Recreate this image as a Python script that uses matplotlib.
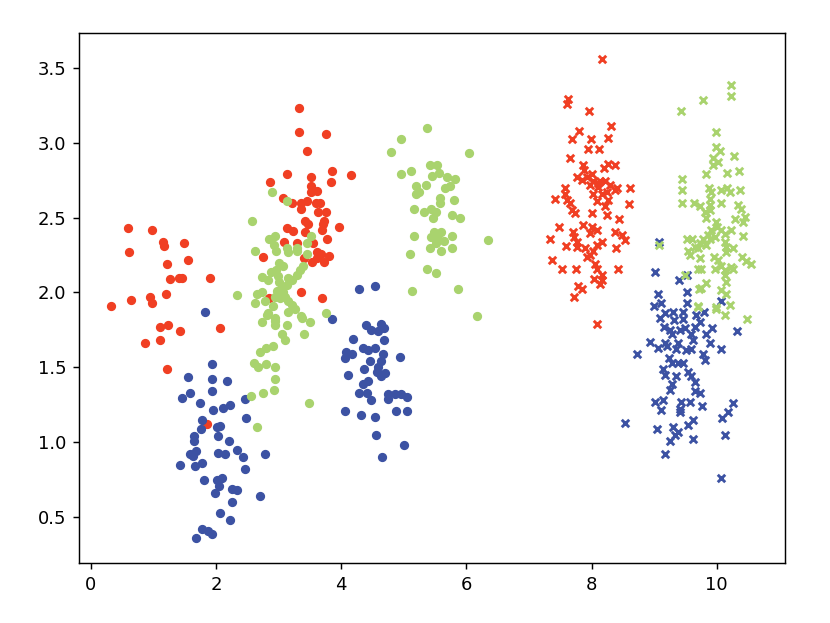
import matplotlib
matplotlib.use("Agg")
import matplotlib.pyplot as plt
import numpy as np

# point values, (x, y)
red_circles = [
    (0.60, 2.43), (0.98, 2.415), (1.145, 2.34), (1.166, 2.31), (1.486, 2.33), (0.61, 2.27),
    (1.555, 2.22), (1.214, 2.19), (1.262, 2.09), (1.41, 2.10), (1.46, 2.10), (1.91, 2.10),
    (1.198, 1.99), (0.94, 1.97), (0.97, 1.93), (0.64, 1.95), (0.32, 1.91), (1.10, 1.77),
    (1.225, 1.78), (1.43, 1.74), (2.07, 1.76), (1.11, 1.68), (0.87, 1.66), (1.21, 1.49),
    (1.85, 1.12),
    (3.32, 3.23), (3.33, 3.07), (3.76, 3.06), (3.46, 2.945), (3.14, 2.79), (3.845, 2.81),
    (4.15, 2.785), (2.86, 2.74), (3.52, 2.77), (3.84, 2.735), (3.52, 2.71), (3.605, 2.68),
    (3.52, 2.67), (3.07, 2.63), (3.22, 2.60), (3.35, 2.60), (3.45, 2.61), (3.59, 2.60),
    (3.66, 2.595), (3.36, 2.56), (3.63, 2.54), (3.75, 2.54), (3.42, 2.48), (3.73, 2.48),
    (3.47, 2.46), (3.71, 2.46), (3.97, 2.44), (3.13, 2.43), (3.23, 2.41), (3.42, 2.405),
    (3.695, 2.42), (3.775, 2.36), (3.55, 2.33), (3.295, 2.33), (3.09, 2.34), (2.75, 2.24),
    (3.605, 2.27), (3.67, 2.26), (3.81, 2.245), (3.41, 2.23), (3.525, 2.205), (3.73, 2.205),
    (3.605, 2.23), (3.36, 2.00), (3.70, 1.965), (2.85, 1.96),
]

blue_circles = [
    (1.82, 1.87), (1.94, 1.52), (1.555, 1.435), (1.94, 1.42), (2.17, 1.41), (1.93, 1.34),
    (1.58, 1.33), (1.46, 1.295), (1.74, 1.26), (2.465, 1.29), (2.22, 1.25), (2.11, 1.23),
    (1.95, 1.215), (2.48, 1.16), (1.77, 1.15), (1.76, 1.09), (2.07, 1.11), (2.01, 1.10),
    (2.03, 1.04), (1.64, 1.04), (1.65, 1.01), (2.21, 1.01), (2.34, 0.95), (2.43, 0.90),
    (2.78, 0.92), (1.68, 0.94), (1.58, 0.92), (1.63, 0.91), (2.03, 0.925), (2.15, 0.92),
    (1.42, 0.85), (1.66, 0.84), (1.78, 0.86), (2.46, 0.82), (1.80, 0.75), (2.02, 0.75),
    (2.09, 0.76), (2.05, 0.71), (2.26, 0.69), (2.34, 0.68), (1.98, 0.66), (2.70, 0.64),
    (2.25, 0.60), (2.06, 0.53), (2.22, 0.48), (1.78, 0.42), (1.87, 0.41), (1.94, 0.39),
    (1.68, 0.36),
    (4.28, 2.02), (4.54, 2.045), (3.845, 1.82), (4.40, 1.78), (4.64, 1.79), (4.47, 1.75),
    (4.59, 1.74), (4.685, 1.765), (4.19, 1.69), (4.685, 1.68), (4.35, 1.63), (4.43, 1.615),
    (4.54, 1.63), (4.07, 1.60), (4.17, 1.59), (4.06, 1.565), (4.66, 1.59), (4.94, 1.57),
    (4.46, 1.54), (4.64, 1.54), (4.59, 1.50), (4.36, 1.49), (4.57, 1.47), (4.70, 1.46),
    (4.11, 1.45), (4.63, 1.44), (4.43, 1.41), (4.35, 1.39), (4.28, 1.33), (4.41, 1.33),
    (4.48, 1.28), (4.75, 1.32), (4.75, 1.29), (4.86, 1.32), (4.96, 1.32), (5.05, 1.30),
    (4.06, 1.21), (4.31, 1.18), (4.54, 1.17), (4.88, 1.21), (5.05, 1.21), (4.55, 1.045),
    (5.00, 0.98), (4.65, 0.90),
]

green_circles = [
    (2.90, 2.67), (3.14, 2.61), (2.57, 2.48), (2.94, 2.38), (2.85, 2.36), (3.51, 2.38),
    (3.46, 2.33), (2.92, 2.32), (2.96, 2.28), (3.14, 2.30), (3.29, 2.30), (3.15, 2.27),
    (3.29, 2.28), (3.46, 2.26), (2.62, 2.28), (3.01, 2.20), (3.07, 2.18), (3.39, 2.18),
    (3.34, 2.15), (2.955, 2.15), (2.87, 2.14), (2.73, 2.105), (2.99, 2.11), (3.29, 2.115),
    (2.83, 2.08), (3.15, 2.10), (3.21, 2.08), (3.01, 2.07), (3.13, 2.05), (3.05, 2.03),
    (2.97, 2.01), (3.07, 2.00), (2.65, 1.99), (2.73, 2.005), (2.94, 1.97), (3.02, 1.96),
    (3.10, 1.97), (3.15, 1.945), (2.78, 1.94), (2.62, 1.93), (2.91, 1.91), (3.21, 1.915),
    (2.33, 1.98), (2.83, 1.86), (2.94, 1.83), (3.36, 1.84), (3.76, 1.865), (3.26, 1.89),
    (3.15, 1.87), (2.82, 1.85), (3.38, 1.83), (3.50, 1.80), (2.74, 1.80), (2.94, 1.81),
    (2.94, 1.78), (3.14, 1.78), (3.06, 1.72), (3.10, 1.68), (3.41, 1.72), (2.91, 1.64),
    (2.80, 1.63), (2.695, 1.60), (2.60, 1.53), (2.67, 1.50), (2.79, 1.52), (2.94, 1.50),
    (2.94, 1.42), (2.93, 1.35), (2.75, 1.33), (2.55, 1.31), (3.48, 1.26), (2.66, 1.10),
    (5.37, 3.10), (4.95, 3.025), (4.80, 2.94), (6.04, 2.93), (4.95, 2.79), (5.12, 2.81),
    (5.42, 2.85), (5.53, 2.85), (5.45, 2.78), (5.56, 2.795), (5.69, 2.77), (5.81, 2.76),
    (5.73, 2.71), (5.655, 2.70), (5.19, 2.71), (5.35, 2.72), (5.20, 2.66), (5.245, 2.67),
    (5.575, 2.63), (5.575, 2.595), (5.80, 2.62), (5.155, 2.555), (5.32, 2.54), (5.44, 2.56),
    (5.52, 2.54), (5.46, 2.50), (5.77, 2.52), (5.905, 2.495), (5.16, 2.38), (5.48, 2.405),
    (5.60, 2.405), (5.44, 2.37), (5.55, 2.36), (5.64, 2.345), (5.77, 2.38), (6.34, 2.35),
    (5.52, 2.33), (5.42, 2.30), (5.60, 2.28), (5.77, 2.295), (5.10, 2.26), (5.37, 2.16),
    (5.51, 2.13), (5.13, 2.01), (5.87, 2.02), (6.17, 1.845),
]

red_crosses = [
    (8.16, 3.56), (7.63, 3.29), (7.61, 3.26), (7.955, 3.21), (8.31, 3.11), (7.80, 3.08),
    (7.69, 3.025), (7.99, 3.025), (8.26, 3.03), (7.94, 2.96), (8.12, 2.955), (7.65, 2.90),
    (7.86, 2.85), (8.26, 2.86), (8.38, 2.85), (8.19, 2.83), (7.875, 2.82), (8.00, 2.79),
    (7.77, 2.77), (7.92, 2.77), (7.85, 2.75), (8.03, 2.745), (8.13, 2.745), (8.22, 2.745),
    (8.30, 2.72), (7.97, 2.72), (8.10, 2.705), (7.58, 2.70), (8.61, 2.70), (8.40, 2.70),
    (8.10, 2.73), (8.37, 2.685), (8.02, 2.66), (8.16, 2.66), (8.24, 2.67), (7.42, 2.625),
    (7.57, 2.66), (7.60, 2.62), (7.65, 2.595), (8.08, 2.61), (8.26, 2.62), (8.60, 2.59),
    (8.21, 2.575), (7.68, 2.55), (7.73, 2.53), (8.00, 2.53), (8.24, 2.52), (8.43, 2.49),
    (7.86, 2.45), (7.48, 2.44), (8.00, 2.44), (8.08, 2.42), (7.97, 2.40), (7.70, 2.405),
    (8.37, 2.405), (7.715, 2.37), (8.48, 2.385), (8.53, 2.35), (7.34, 2.36), (7.76, 2.34),
    (8.16, 2.34), (7.59, 2.31), (7.76, 2.305), (8.08, 2.32), (7.89, 2.295), (8.02, 2.28),
    (8.39, 2.295), (7.92, 2.235), (7.97, 2.25), (7.37, 2.22), (8.05, 2.19), (8.08, 2.16),
    (7.53, 2.155), (7.75, 2.155), (8.42, 2.16), (8.17, 2.115), (8.035, 2.09), (8.16, 2.08),
    (8.13, 2.055), (7.78, 2.04), (7.85, 2.02), (7.72, 1.97), (8.09, 1.79),
]

blue_crosses = [
    (9.07, 2.34), (9.01, 2.14), (9.53, 2.12), (9.39, 2.08), (9.06, 1.99), (9.525, 2.00),
    (9.53, 1.93), (10.07, 1.945), (9.00, 1.91), (9.11, 1.93), (9.17, 1.865), (9.30, 1.87),
    (9.46, 1.87), (9.09, 1.83), (9.32, 1.815), (9.46, 1.82), (9.675, 1.85), (9.80, 1.87),
    (9.73, 1.80), (9.16, 1.77), (9.25, 1.75), (9.41, 1.75), (9.49, 1.76), (9.65, 1.77),
    (9.93, 1.765), (9.28, 1.72), (9.595, 1.72), (9.835, 1.72), (10.33, 1.74), (8.93, 1.67),
    (9.17, 1.66), (9.38, 1.66), (9.62, 1.68), (9.89, 1.665), (9.06, 1.63), (9.20, 1.64),
    (9.355, 1.62), (9.515, 1.615), (9.595, 1.62), (10.06, 1.62), (8.73, 1.59), (9.23, 1.56),
    (9.78, 1.59), (9.81, 1.55), (9.28, 1.53), (9.38, 1.53), (9.46, 1.53), (9.14, 1.49),
    (9.54, 1.47), (9.17, 1.45), (9.355, 1.44), (9.595, 1.44), (9.65, 1.40), (9.28, 1.39),
    (9.25, 1.35), (9.65, 1.34), (9.73, 1.33), (9.01, 1.27), (9.14, 1.28), (9.435, 1.27),
    (9.57, 1.27), (10.26, 1.265), (9.11, 1.215), (9.41, 1.225), (9.41, 1.20), (9.765, 1.24),
    (10.18, 1.20), (10.08, 1.16), (8.53, 1.125), (9.04, 1.09), (9.30, 1.10), (9.62, 1.15),
    (9.54, 1.115), (9.38, 1.07), (9.33, 1.05), (9.25, 1.01), (9.62, 1.02), (10.13, 1.05),
    (9.17, 0.92), (10.07, 0.76),
]

green_crosses = [
    (10.22, 3.385), (10.22, 3.31), (9.78, 3.285), (9.435, 3.21), (9.98, 3.07), (9.98, 2.97),
    (10.05, 2.945), (10.27, 2.91), (9.94, 2.90), (10.02, 2.87), (9.94, 2.85), (10.36, 2.81),
    (10.165, 2.795), (9.82, 2.79), (9.45, 2.76), (9.45, 2.685), (9.45, 2.60), (9.87, 2.70),
    (9.91, 2.67), (10.07, 2.685), (10.17, 2.70), (10.21, 2.67), (10.37, 2.685), (9.63, 2.60),
    (9.73, 2.58), (9.89, 2.625), (9.89, 2.585), (10.06, 2.60), (10.34, 2.585), (9.89, 2.55),
    (9.81, 2.54), (10.39, 2.56), (9.835, 2.495), (9.995, 2.47), (10.29, 2.49), (10.45, 2.505),
    (10.42, 2.47), (10.00, 2.44), (9.91, 2.42), (10.06, 2.42), (10.23, 2.42), (9.86, 2.385),
    (9.97, 2.37), (10.13, 2.39), (10.42, 2.375), (9.525, 2.355), (9.61, 2.36), (9.78, 2.355),
    (9.89, 2.355), (9.73, 2.33), (9.835, 2.32), (10.13, 2.34), (10.15, 2.305), (10.26, 2.30),
    (9.70, 2.30), (9.54, 2.28), (9.08, 2.32), (10.15, 2.27), (9.57, 2.25), (9.73, 2.23),
    (9.955, 2.24), (10.02, 2.22), (10.41, 2.24), (10.47, 2.21), (10.54, 2.19), (10.07, 2.18),
    (9.97, 2.16), (10.13, 2.15), (9.70, 2.16), (10.26, 2.16), (10.13, 2.115), (9.49, 2.115),
    (10.15, 2.07), (9.835, 2.06), (9.72, 2.02), (10.07, 2.015), (10.15, 1.99), (9.70, 1.91),
    (9.98, 1.905), (10.21, 1.915), (10.13, 1.85), (10.48, 1.82), (9.995, 1.89), (9.755, 2.03),
    (9.65, 2.305), (9.745, 2.16), (10.23, 2.17), (9.70, 1.905),
]

red = '#f03f23'
blue = '#3c52a3'
green = '#a9d36e'

fig = plt.figure(figsize=(830 / 130, 623 / 130), dpi=130)
ax = fig.add_axes([0.0952, 0.0963, 0.8506, 0.8507])

for pts, c in [(red_circles, red), (blue_circles, blue), (green_circles, green)]:
    p = np.array(pts)
    ax.scatter(p[:, 0], p[:, 1], color=c, marker='o', s=17, linewidths=1.0)
for pts, c in [(red_crosses, red), (blue_crosses, blue), (green_crosses, green)]:
    p = np.array(pts)
    ax.scatter(p[:, 0], p[:, 1], color=c, marker='x', s=17, linewidths=1.6)

ax.set_xlim(-0.19, 11.09)
ax.set_ylim(0.193, 3.733)

fig.savefig('out.png', dpi=130)
